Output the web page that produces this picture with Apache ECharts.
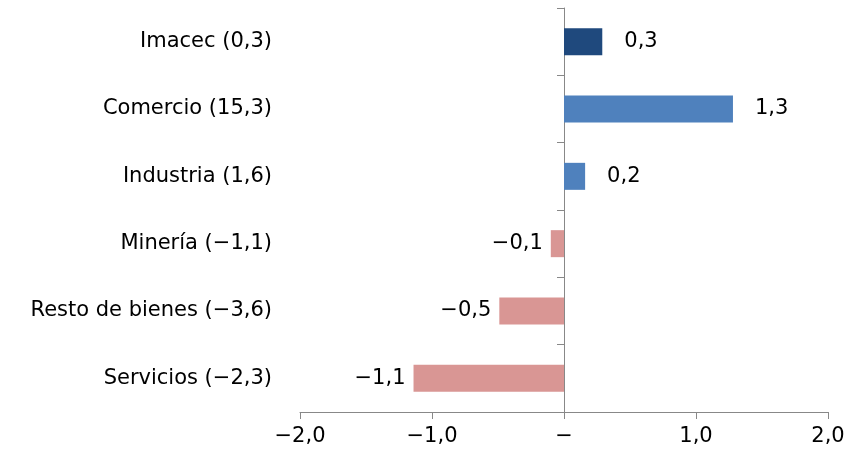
<!DOCTYPE html>
<html>
<head>
<meta charset="utf-8">
<script src="https://cdn.jsdelivr.net/npm/echarts@6/dist/echarts.min.js"></script>
<style>html,body{margin:0;padding:0;background:#fff}#c{width:853px;height:468px}</style>
</head>
<body>
<div id="c"></div>
<script>
// categories listed bottom to top
var categories = ['Servicios (−2,3)', 'Resto de bienes (−3,6)', 'Minería (−1,1)', 'Industria (1,6)', 'Comercio (15,3)', 'Imacec (0,3)'];
var values = [-1.14, -0.49, -0.1, 0.16, 1.28, 0.29];
var colors = ['#D99694', '#D99694', '#D99694', '#4F81BD', '#4F81BD', '#1F497D'];
var xTicks = { '-2': '−2,0', '-1': '−1,0', '0': '−', '1': '1,0', '2': '2,0' };

var fmt = function (v) {
  var s = Math.abs(v).toFixed(1).replace('.', ',');
  return (v < 0 ? '−' : '') + s;
};
var font = 'DejaVu Sans';
var fs = 21;

var chart = echarts.init(document.getElementById('c'));
chart.setOption({
  animation: false,
  grid: { left: 300, right: 25, top: 8, bottom: 56 },
  xAxis: {
    type: 'value', min: -2, max: 2, interval: 1,
    splitLine: { show: false },
    axisLine: { show: true, onZero: false, lineStyle: { color: '#888' } },
    axisTick: { show: true, length: 7, lineStyle: { color: '#888' } },
    axisLabel: { color: '#000', fontSize: fs, fontFamily: font, margin: 14,
      formatter: function (v) { return xTicks[String(Math.round(v))]; } }
  },
  yAxis: [{
    type: 'category', data: categories,
    axisLine: { show: false }, axisTick: { show: false },
    axisLabel: { color: '#000', fontSize: fs, fontFamily: font, margin: 28 }
  }, {
    type: 'category', data: categories, position: 'left', offset: -264,
    axisLine: { show: true, onZero: false, lineStyle: { color: '#888' } },
    axisTick: { show: true, length: 7, lineStyle: { color: '#888' } },
    axisLabel: { show: false }
  }],
  series: [{
    type: 'bar', barWidth: 27, yAxisIndex: 0,
    data: values.map(function (v, i) {
      return {
        value: v, itemStyle: { color: colors[i] },
        label: { position: v < 0 ? 'left' : 'right', distance: v < 0 ? 8 : 22 }
      };
    }),
    label: { show: true, color: '#000', fontSize: fs, fontFamily: font,
      formatter: function (p) { return fmt(p.value); } }
  }]
});
</script>
</body>
</html>
